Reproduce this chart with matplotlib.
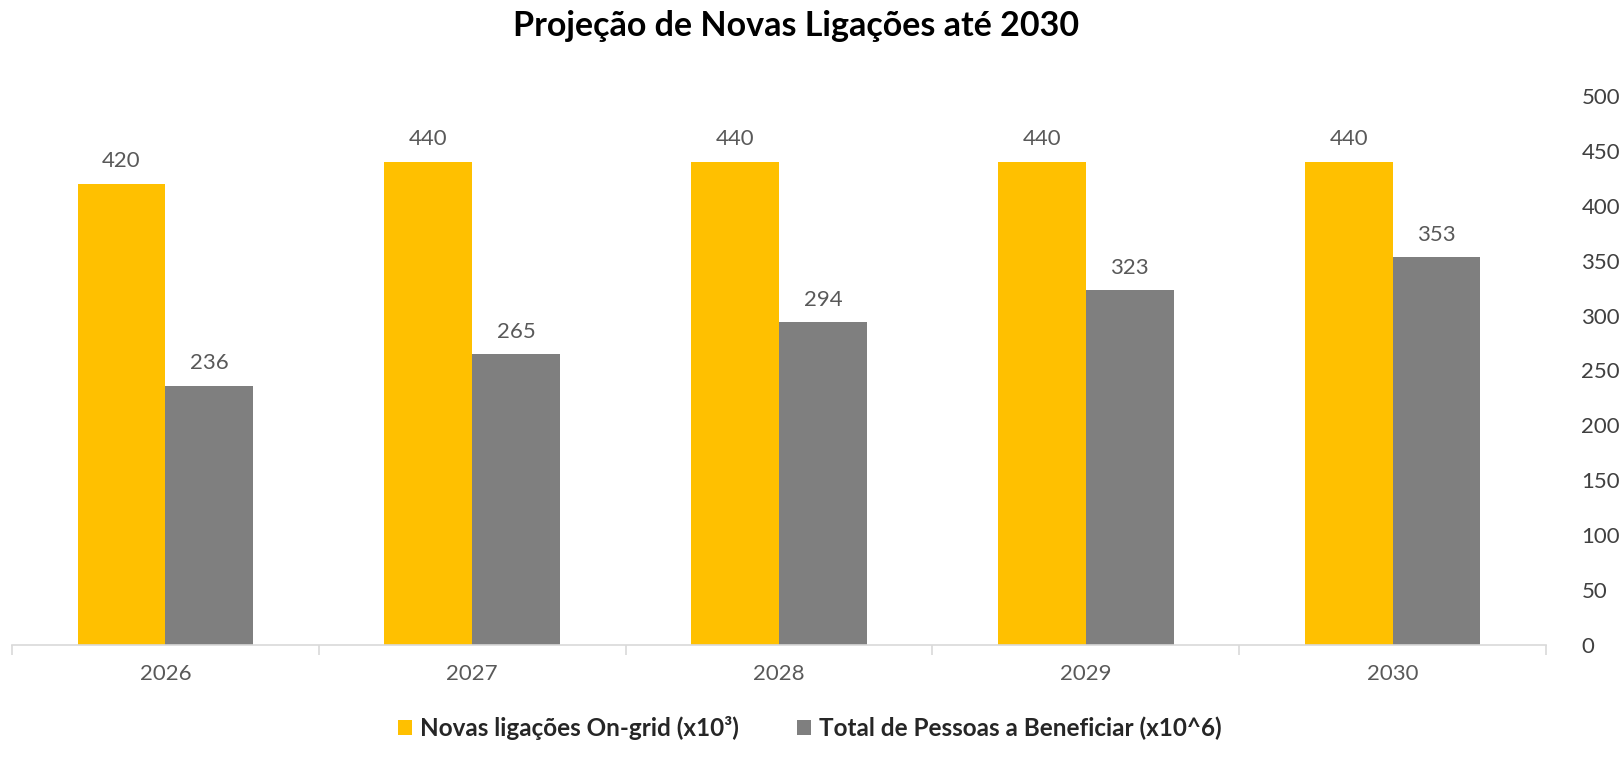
import matplotlib.pyplot as plt
import numpy as np
from matplotlib.ticker import MultipleLocator, FixedLocator

# values
years = ['2026', '2027', '2028', '2029', '2030']
novas_ligacoes = [420, 440, 440, 440, 440]
pessoas_beneficiar = [236, 265, 294, 323, 353]

yellow = '#FFC000'
grey = '#7F7F7F'
font = 'Lato'

plt.rcParams['font.family'] = [font, 'DejaVu Sans']

fig = plt.figure(figsize=(16.19, 7.73), dpi=100)
ax = fig.add_axes([12 / 1619, 128 / 773, 1534 / 1619, 549 / 773])

x = np.arange(len(years))
w = 0.286
b1 = ax.bar(x - w / 2, novas_ligacoes, w, color=yellow, label='Novas ligações On-grid (x10³)')
b2 = ax.bar(x + w / 2, pessoas_beneficiar, w, color=grey, label='Total de Pessoas a Beneficiar (x10^6)')

for bars in (b1, b2):
    ax.bar_label(bars, padding=9, fontsize=16, color='#595959')

ax.set_xlim(-0.5, len(years) - 0.5)
ax.set_ylim(0, 500)
ax.yaxis.set_major_locator(MultipleLocator(50))
ax.yaxis.tick_right()
ax.tick_params(axis='y', length=0, pad=25.5, labelsize=16, labelcolor='#404040')
for lbl in ax.get_yticklabels():
    lbl.set_horizontalalignment('left')

ax.set_xticks(x)
ax.set_xticklabels(years)
ax.tick_params(axis='x', which='major', length=0, pad=14, labelsize=16, labelcolor='#595959')
ax.xaxis.set_minor_locator(FixedLocator(np.arange(-0.5, len(years), 1.0)))
ax.tick_params(axis='x', which='minor', length=7, color='#D9D9D9', width=1.2)

for s in ['top', 'left', 'right']:
    ax.spines[s].set_visible(False)
ax.spines['bottom'].set_color('#D9D9D9')
ax.spines['bottom'].set_linewidth(1.2)

fig.suptitle('Projeção de Novas Ligações até 2030', x=0.492, y=0.967, va='center',
             fontsize=24.5, fontweight='bold', color='black')

leg = fig.legend(loc='center', bbox_to_anchor=(0.5, 0.058), ncol=2, frameon=False,
                 handlelength=0.6, handleheight=0.6, handletextpad=0.3, columnspacing=2.4,
                 prop={'size': 17.5, 'weight': 'bold'})
for t in leg.get_texts():
    t.set_color('#262626')

plt.savefig('out.png', dpi=100)
